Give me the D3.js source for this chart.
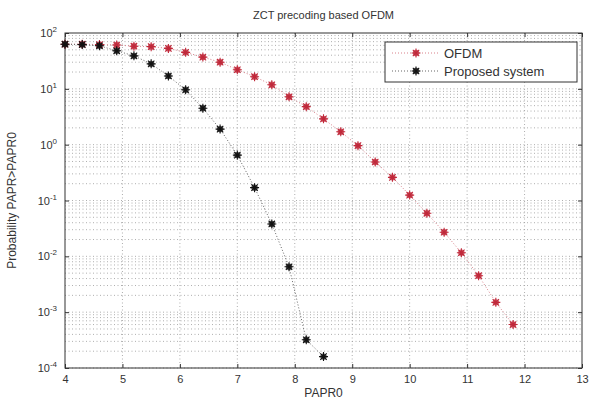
<!DOCTYPE html>
<html><head><meta charset="utf-8">
<script src="https://cdn.jsdelivr.net/npm/d3@7"></script>
<style>body{margin:0;background:#fff;} text{font-family:"Liberation Sans",Arial,sans-serif;fill:#333;}</style>
</head><body><svg id="c" width="590" height="403"></svg>
<script>
const xOFDM = [4.0,4.3,4.6,4.9,5.2,5.5,5.8,6.1,6.4,6.7,7.0,7.3,7.6,7.9,8.2,8.5,8.8,9.1,9.4,9.7,10.0,10.3,10.6,10.9,11.2,11.5,11.8];
const yOFDM = [63,63,62,61,58,57,53,45,37,30,22,16.5,11.8,7.2,4.8,2.9,1.7,0.96,0.49,0.26,0.125,0.059,0.027,0.0116,0.0045,0.0015,0.0006];
const xProp = [4.0,4.3,4.6,4.9,5.2,5.5,5.8,6.1,6.4,6.7,7.0,7.3,7.6,7.9,8.2,8.5];
const yProp = [63,62,59,48,39,28,17,9.6,4.5,1.9,0.65,0.17,0.038,0.0065,0.00032,0.00016];
const xTicks = [4,5,6,7,8,9,10,11,12,13];
const yExps = [2,1,0,-1,-2,-3,-4];
const seriesNames = ["OFDM","Proposed system"];
const colors = ["#c0283a","#111"];

const svg = d3.select("#c");
const L=65, R=582, T=33, B=368;
const x = d3.scaleLinear().domain([4,13]).range([L,R]);
const y = d3.scaleLog().domain([1e-4,1e2]).range([B,T]);
const g = svg.append("g");

// grid
const gridC = "#999";
for (let e=-4; e<2; e++) {
  for (let m=1; m<10; m++) {
    const v = m*Math.pow(10,e);
    g.append("line").attr("x1",L).attr("x2",R).attr("y1",y(v)).attr("y2",y(v))
      .attr("stroke",gridC).attr("stroke-width",0.8).attr("stroke-dasharray","1,2.5");
  }
}
xTicks.slice(1,-1).forEach(t=>{
  g.append("line").attr("x1",x(t)).attr("x2",x(t)).attr("y1",T).attr("y2",B)
    .attr("stroke",gridC).attr("stroke-width",0.8).attr("stroke-dasharray","1,2.5");
});
// box
g.append("rect").attr("x",L).attr("y",T).attr("width",R-L).attr("height",B-T)
  .attr("fill","none").attr("stroke","#333").attr("stroke-width",1);

// axes ticks
const xa = d3.axisBottom(x).tickValues(xTicks).tickSize(-4).tickFormat(d3.format("d"));
const ax = svg.append("g").attr("transform",`translate(0,${B})`).call(xa);
ax.select(".domain").remove();
ax.selectAll("text").attr("font-size",11).attr("dy","1.1em").attr("fill","#333");
ax.selectAll("line").attr("stroke","#333");
const axT = svg.append("g").attr("transform",`translate(0,${T})`).call(d3.axisTop(x).tickValues(xTicks).tickSize(-4).tickFormat(""));
axT.select(".domain").remove(); axT.selectAll("line").attr("stroke","#333");

const yVals = yExps.map(e=>Math.pow(10,e));
const ya = d3.axisLeft(y).tickValues(yVals).tickSize(-4).tickFormat("");
const ay = svg.append("g").attr("transform",`translate(${L},0)`).call(ya);
ay.select(".domain").remove(); ay.selectAll("line").attr("stroke","#333");
const ayR = svg.append("g").attr("transform",`translate(${R},0)`).call(d3.axisRight(y).tickValues(yVals).tickSize(-4).tickFormat(""));
ayR.select(".domain").remove(); ayR.selectAll("line").attr("stroke","#333");

yExps.forEach(e=>{
  const t = svg.append("text").attr("x",L-8).attr("y",y(Math.pow(10,e))+4)
    .attr("text-anchor","end").attr("font-size",11);
  t.append("tspan").text("10");
  t.append("tspan").attr("dy",-5).attr("font-size",8).text(e);
});

// series
function star(sel, cx, cy, c){
  sel.append("circle").attr("cx",cx).attr("cy",cy).attr("r",3.2).attr("fill",c).attr("opacity",0.75);
  const s=4.5, d=3.2;
  sel.append("path").attr("d",`M${cx-s},${cy}H${cx+s}M${cx},${cy-s}V${cy+s}M${cx-d},${cy-d}L${cx+d},${cy+d}M${cx-d},${cy+d}L${cx+d},${cy-d}`)
    .attr("stroke",c).attr("stroke-width",1.1);
}
const line = d3.line().x(d=>x(d[0])).y(d=>y(d[1]));
const series = [xOFDM.map((v,i)=>[v,yOFDM[i]]), xProp.map((v,i)=>[v,yProp[i]])];
series.forEach((s,i)=>{
  g.append("path").datum(s).attr("d",line).attr("fill","none")
    .attr("stroke", i==0?"#d9808a":"#666").attr("stroke-width",1).attr("stroke-dasharray","1,2");
});
series.forEach((s,i)=>{ s.forEach(d=>star(g,x(d[0]),y(d[1]),colors[i])); });

// legend
const lg = svg.append("g");
lg.append("rect").attr("x",385).attr("y",42).attr("width",192).attr("height",40)
  .attr("fill","#fff").attr("stroke","#333").attr("stroke-width",1);
seriesNames.forEach((n,i)=>{
  const yy = 53 + i*18;
  lg.append("line").attr("x1",392).attr("x2",440).attr("y1",yy).attr("y2",yy)
    .attr("stroke",i==0?"#d9808a":"#666").attr("stroke-dasharray","1,2");
  star(lg,416,yy,colors[i]);
  lg.append("text").attr("x",444).attr("y",yy+5).attr("font-size",13).text(n);
});

// titles
svg.append("text").attr("x",(L+R)/2).attr("y",19).attr("text-anchor","middle").attr("font-size",11).text("ZCT precoding based OFDM");
svg.append("text").attr("x",(L+R)/2).attr("y",397).attr("text-anchor","middle").attr("font-size",12).text("PAPR0");
svg.append("text").attr("transform",`translate(16,${(T+B)/2}) rotate(-90)`).attr("text-anchor","middle").attr("font-size",12).text("Probability PAPR>PAPR0");
</script></body></html>
